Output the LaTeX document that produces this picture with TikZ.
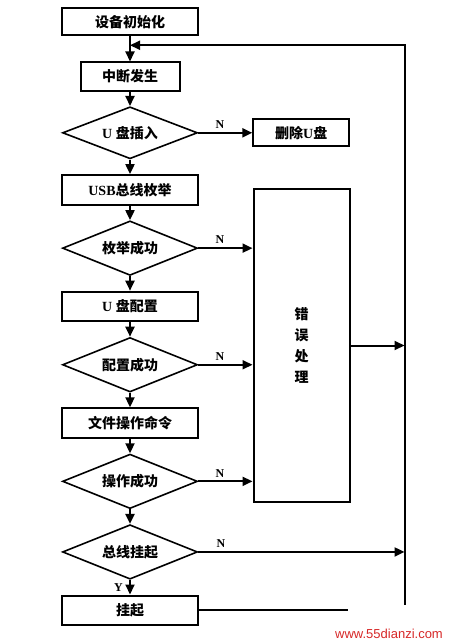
\documentclass[tikz,border=0pt]{standalone}
\usepackage{fontspec}
\setmainfont{Liberation Serif}
\newfontfamily\cjk{Noto Sans CJK SC}
\newfontfamily\marksans{Liberation Sans}
\usetikzlibrary{arrows.meta, positioning, shapes.geometric, calc}
\definecolor{markred}{RGB}{215,40,40}
\newcommand{\zh}[1]{{\cjk #1}}

\begin{document}
\begin{tikzpicture}[x=1pt, y=-1pt,
    box/.style={rectangle, draw, line width=2pt, minimum width=136pt, minimum height=29.5pt,
                inner sep=2pt, font=\bfseries\fontsize{14}{16}\selectfont},
    test/.style={diamond, draw, line width=1.6pt, aspect=2.5, minimum width=135pt,
                 minimum height=54.5pt, inner sep=0pt, font=\bfseries\fontsize{14}{16}\selectfont},
    arrow/.style={-{Triangle[length=10pt,width=9pt]}, line width=2pt},
    nlabel/.style={above, font=\bfseries\fontsize{12}{14}\selectfont},
    node distance=14.5pt
]
\useasboundingbox (0,0) rectangle (459,642);
% main column
\node[box, minimum height=27pt] (init) at (130,22) {\zh{设备初始化}};
\node[box, minimum width=99pt, minimum height=28pt, below=25pt of init] (int) {\zh{中断发生}};
\node[test, minimum height=52pt, below=of int] (d1) {U \zh{盘插入}};
\node[box, below=of d1] (enum) {USB\zh{总线枚举}};
\node[test, below=of enum] (d2) {\zh{枚举成功}};
\node[box, below=of d2] (cfg) {U \zh{盘配置}};
\node[test, below=of cfg] (d3) {\zh{配置成功}};
\node[box, below=of d3] (file) {\zh{文件操作命令}};
\node[test, below=of file] (d4) {\zh{操作成功}};
\node[test, below=of d4] (d5) {\zh{总线挂起}};
\node[box, below=of d5] (hang) {\zh{挂起}};
% right side
\node[box, minimum width=96pt, minimum height=27pt, right=54pt of d1] (del) {\zh{删除}U\zh{盘}};
\node[box, minimum width=96pt, minimum height=313pt, align=center,
      font=\cjk\bfseries\fontsize{14}{21}\selectfont] (err) at (301.5,345.5) {错\\误\\处\\理};
\coordinate (rail) at ($(err.east)+(54pt,0)$);
\coordinate (join) at ($(init.south)!0.35!(int.north)$);

\foreach \a/\b in {init/int, int/d1, d1/enum, enum/d2, d2/cfg, cfg/d3, d3/file, file/d4, d4/d5}
    \draw[arrow] (\a) -- (\b);
\draw[arrow] (d5) -- node[left=3pt, font=\bfseries\fontsize{12}{14}\selectfont] {Y} (hang);
\draw[arrow] (d1) -- node[nlabel, pos=0.4] {N} (del);
\foreach \d in {d2, d3, d4}
    \draw[arrow] (\d.east) -- node[nlabel, pos=0.4] {N} (\d.east -| err.west);
\draw[arrow] (err.east) -- (err.east -| rail);
\draw[arrow] (d5.east) -- node[nlabel, pos=0.11] {N} (d5.east -| rail);
\draw[arrow] (hang.east) -| (rail |- join) -- (join);

% watermark
\fill[white] (348,605) rectangle (459,642);
\node[font=\marksans\fontsize{13}{15}\selectfont, text=markred] (mark) at (389,634) {www.55dianzi.com};
\end{tikzpicture}
\end{document}
